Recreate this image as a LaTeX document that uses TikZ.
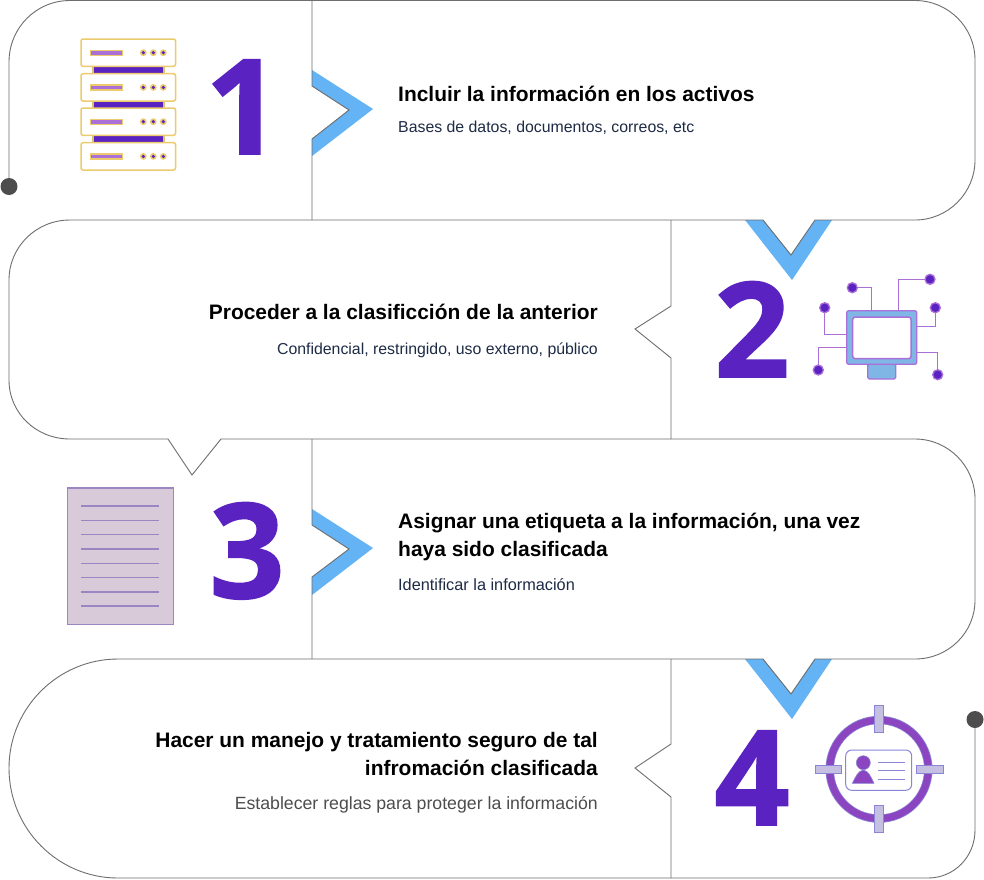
\documentclass[tikz,border=0pt]{standalone}
\usepackage{fontspec}
\setmainfont{Liberation Sans}
\newfontfamily\numfont{Open Sans}[BoldFeatures={FakeBold=1.2}]
\definecolor{lineg}{HTML}{6E6E6E}
\definecolor{dotg}{HTML}{4D4D4D}
\definecolor{sky}{HTML}{63B3F5}
\definecolor{violet}{HTML}{5A22C0}
\definecolor{navy}{HTML}{1E2B45}
\definecolor{gold}{HTML}{ECCB6E}
\definecolor{orchid}{HTML}{AB6FD8}
\definecolor{mon}{HTML}{7FB6E6}
\definecolor{paper}{HTML}{D8CAD9}
\definecolor{paperl}{HTML}{9A86C0}
\definecolor{ringc}{HTML}{8C45C0}
\definecolor{ringe}{HTML}{8A85D6}
\definecolor{tick}{HTML}{C5C0E2}
\tikzset{
  x=1pt,y=-1pt,
  outline/.style={draw=lineg,line width=0.9pt,line join=miter},
  chev/.style={fill=sky,draw=none},
  blob/.style={circle,fill=dotg,inner sep=0pt,minimum size=17pt},
  num/.style={anchor=base,inner sep=0pt,text=violet,font=\numfont\bfseries\fontsize{132}{132}\selectfont},
  ttl/.style={inner sep=0pt,text=black,font=\bfseries\fontsize{20.95}{21}\selectfont},
  sub/.style={inner sep=0pt,text=navy,font=\fontsize{15.85}{16}\selectfont},
  srv/.style={draw=gold,line width=1.5pt,fill=white,rounded corners=2pt},
  wire/.style={draw=orchid,line width=1.2pt},
  ticks/.style={fill=tick,draw=ringe,line width=1pt},
}
\begin{document}
\begin{tikzpicture}
\useasboundingbox (0,0) rectangle (984,879);
\fill[white] (0,0) rectangle (984,879);
% chevrons
\fill[chev] (312,70)--(373,109)--(312,156)--(312,139)--(349,110)--(312,86)--cycle;
\fill[chev] (745,220)--(792,280)--(832,220)--(815,220)--(791,255)--(763,220)--cycle;
\fill[chev] (312,509)--(373,548)--(312,595)--(312,577)--(349,549)--(312,525)--cycle;
\fill[chev] (745,659)--(792,719)--(832,659)--(815,659)--(791,694)--(763,659)--cycle;
% outline
\coordinate (s) at (9,186.5);
\coordinate (e) at (975,719.5);
\draw[outline] (s) -- (9,62) .. controls (9,28) and (36,0.5) .. (70,0.5) -- (915,0.5)
  .. controls (948,0.5) and (975,27) .. (975,60) -- (975,160)
  .. controls (975,193) and (948,220) .. (915,220) -- (815,220) -- (791,255) -- (763,220) -- (70,220)
  .. controls (36,220) and (9,247) .. (9,280) -- (9,380)
  .. controls (9,413) and (36,439) .. (70,439) -- (168,439) -- (192,475) -- (221,439) -- (915,439)
  .. controls (948,439) and (975,466) .. (975,499) -- (975,600)
  .. controls (975,633) and (948,659) .. (915,659) -- (815,659) -- (791,694) -- (763,659) -- (118,659)
  .. controls (58,659) and (9,708) .. (9,768) .. controls (9,829) and (58,878) .. (118,878) -- (928,878)
  .. controls (954,878) and (975,857) .. (975,830) -- (e);
\draw[outline] (312,0)--(312,86)--(349,110)--(312,139)--(312,220);
\draw[outline] (671,220)--(671,306)--(635,329)--(671,358)--(671,439);
\draw[outline] (312,439)--(312,525)--(349,549)--(312,577)--(312,659);
\draw[outline] (671,659)--(671,744)--(635,768)--(671,797)--(671,878);
\node[blob] (d1) at (s) {};
\node[blob] (d2) at (e) {};
% numbers
\node[num] (n1) at (243,154) {1};
\node[num] (n2) at (752,377) {2};
\node[num] (n3) at (247,598) {3};
\node[num] (n4) at (752,825) {4};
% texts
\node[ttl,anchor=base west] (t1) at (398,101) {Incluir la información en los activos};
\node[sub,anchor=base west] (s1) at (398,132) {Bases de datos, documentos, correos, etc};
\node[ttl,anchor=base east] (t2) at (598,319) {Proceder a la clasificción de la anterior};
\node[sub,anchor=base east] (s2) at (598,354) {Confidencial, restringido, uso externo, público};
\node[ttl,anchor=base west] (t3) at (398,528.5) {Asignar una etiqueta a la información, una vez};
\node[ttl,anchor=base west] (t3b) at (398,556) {haya sido clasificada};
\node[sub,anchor=base west,font=\fontsize{16.3}{16}\selectfont] (s3) at (398,590) {Identificar la información};
\node[ttl,anchor=base east] (t4) at (598,747.5) {Hacer un manejo y tratamiento seguro de tal};
\node[ttl,anchor=base east] (t4b) at (598,775) {infromación clasificada};
\node[sub,anchor=base east,text=dotg,font=\fontsize{17.7}{18}\selectfont] (s4) at (598,809) {Establecer reglas para proteger la información};
% server icon
\foreach \yy in {66,101,135.7}{
  \fill[violet,draw=gold!85!gray,line width=1.2pt] (93,\yy) rectangle (164,\yy+8);
}
\foreach \yy in {39,73.7,108,142.7}{
  \draw[srv] (81,\yy) rectangle (175.5,\yy+27.3);
  \fill[orchid,draw=gold,line width=1.2pt] (90.5,\yy+11.2) rectangle (122.3,\yy+16.2);
  \foreach \xx in {143.3,153.3,163.3}{
    \fill[gold] (\xx,\yy+13.7) circle (3.4);
    \fill[violet] (\xx,\yy+13.7) circle (1.8);
  }
}
% monitor icon
\draw[wire] (852.3,287.7)--(871.7,287.7)--(871.7,311);
\draw[wire] (930,279.3)--(898.3,279.3)--(898.3,311);
\draw[wire] (824.7,307.7)--(824.7,334.3)--(847,334.3);
\draw[wire] (818.3,370)--(818.3,347.3)--(847,347.3);
\draw[wire] (935.3,307.7)--(935.3,326.7)--(916.5,326.7);
\draw[wire] (937.7,374.7)--(937.7,352.7)--(916.5,352.7);
\filldraw[fill=mon,draw=orchid,line width=1.2pt,rounded corners=1.5pt] (867.7,364)--(867.7,379)--(895.7,379)--(895.7,364)--cycle;
\filldraw[fill=mon,draw=orchid,line width=1.3pt,rounded corners=2pt] (846.7,310.7) rectangle (916.7,364.3);
\filldraw[fill=white,draw=orchid,line width=1.5pt,rounded corners=2.5pt] (852.7,317) rectangle (911,358.7);
\foreach \p in {(852.3,287.7),(824.7,307.7),(818.3,370),(930,279.3),(935.3,307.7),(937.7,374.7)}{
  \filldraw[fill=violet,draw=orchid,line width=1.3pt] \p circle (5);
}
% document icon
\filldraw[fill=paper,draw=paperl,line width=1.5pt] (67.5,488) rectangle (173.3,624.7);
\foreach \yy in {506,520.3,534.7,549,563.3,577.7,592,606}{
  \draw[paperl,line width=1.3pt] (81,\yy)--(159,\yy);
}
% target icon
\fill[ringe] (879,769.3) circle (53.5);
\fill[ringc] (879,769.3) circle (52.7);
\fill[ringe] (879,769.3) circle (45.7);
\fill[white] (879,769.3) circle (45);
\draw[ringe,line width=1pt,fill=white,rounded corners=6pt] (845.7,750) rectangle (911.7,790.3);
\filldraw[fill=ringc,draw=ringe,line width=0.6pt] (863.3,762.7) circle (7);
\filldraw[fill=ringc,draw=ringe,line width=0.6pt] (852.3,783.3) .. controls (856,776) and (858,771) .. (863.3,770) .. controls (868.5,771) and (870.5,776) .. (874,783.3) -- cycle;
\foreach \yy in {762,770.7,779.3}{
  \draw[ringe,line width=1pt] (878.3,\yy)--(904.7,\yy);
}
\filldraw[ticks] (874.7,705.7) rectangle (883.3,732.3);
\filldraw[ticks] (874.7,805.7) rectangle (883.3,832.3);
\filldraw[ticks] (815,765) rectangle (841.7,773.7);
\filldraw[ticks] (916.3,765) rectangle (943,773.7);
\end{tikzpicture}
\end{document}
